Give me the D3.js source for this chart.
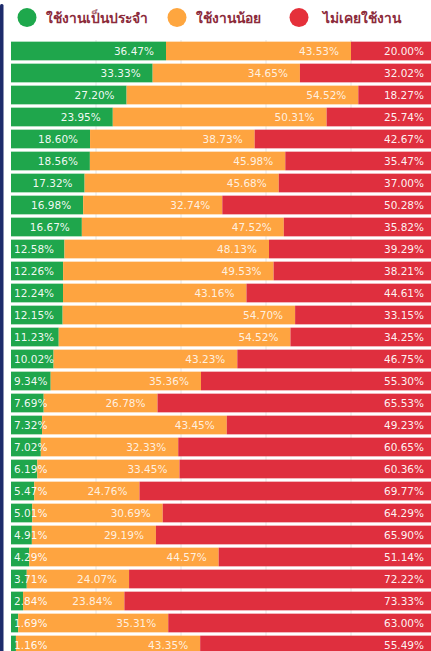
<!DOCTYPE html>
<html><head><meta charset="utf-8">
<script src="https://cdn.jsdelivr.net/npm/d3@7"></script>
<style>body{margin:0;background:#fff;overflow:hidden}svg{display:block}</style>
</head><body>
<svg id="chart" width="431" height="651"></svg>
<script>
const seriesNames = ["ใช้งานเป็นประจำ", "ใช้งานน้อย", "ไม่เคยใช้งาน"];
const seriesColors = ["#1fa64c", "#fea440", "#df2f3e"];
const legendColors = ["#1ea84c", "#fea63f", "#e5303a"];
const regular = [36.47,33.33,27.20,23.95,18.60,18.56,17.32,16.98,16.67,12.58,12.26,12.24,12.15,11.23,10.02,9.34,7.69,7.32,7.02,6.19,5.47,5.01,4.91,4.29,3.71,2.84,1.69,1.16];
const rarely  = [43.53,34.65,54.52,50.31,38.73,45.98,45.68,32.74,47.52,48.13,49.53,43.16,54.70,54.52,43.23,35.36,26.78,43.45,32.33,33.45,24.76,30.69,29.19,44.57,24.07,23.84,35.31,43.35];
const never   = [20.00,32.02,18.27,25.74,42.67,35.47,37.00,50.28,35.82,39.29,38.21,44.61,33.15,34.25,46.75,55.30,65.53,49.23,60.65,60.36,69.77,64.29,65.90,51.14,72.22,73.33,63.00,55.49];
const gridTicks = [20,40,60,80];

const svg = d3.select("#chart");
const rows = regular.map((d,i)=>({i, vals:[regular[i], rarely[i], never[i]]}));

const x = d3.scaleLinear().domain([0,100]).range([11,436]);
const y = d3.scaleBand().domain(d3.range(rows.length)).range([40, 656]).paddingInner(0.15).paddingOuter(0.075);

// left border
svg.append("rect").attr("x",0).attr("y",4).attr("width",3.5).attr("height",651).attr("rx",1.5).attr("fill","#1d2b6b");

// gridlines
svg.append("g").selectAll("line").data(gridTicks).join("line")
  .attr("x1",d=>x(d)).attr("x2",d=>x(d)).attr("y1",40).attr("y2",651)
  .attr("stroke","#e4e4e4").attr("stroke-width",1);

const g = svg.append("g");
rows.forEach(r=>{
  let cum = 0;
  r.vals.forEach((v,k)=>{
    const x0 = x(cum), x1 = x(cum+v);
    cum += v;
    g.append("rect").attr("x",x0).attr("y",y(r.i)).attr("width",x1-x0).attr("height",y.bandwidth()).attr("fill",seriesColors[k]);
  });
});
const lg = svg.append("g").attr("font-family","'DejaVu Sans', Verdana, sans-serif").attr("font-size","10.5px").attr("fill","#fff");
rows.forEach(r=>{
  let cum = 0;
  r.vals.forEach((v,k)=>{
    const start = cum;
    cum += v;
    const t = lg.append("text").attr("y", y(r.i)+y.bandwidth()/2).attr("dy","0.36em")
      .attr("text-anchor","end").attr("fill-opacity",k===1?0.85:0.95).text(v.toFixed(2)+"%");
    const w = t.node().getComputedTextLength();
    let xe = x(cum) - 12;
    const minStart = x(start) + (start===0 ? 3 : 4);
    if (xe - w < minStart) xe = minStart + w;
    t.attr("x", xe);
  });
});

// legend
const legX = [27, 177, 299];
const leg = svg.append("g");
seriesNames.forEach((n,k)=>{
  leg.append("circle").attr("cx",legX[k]).attr("cy",17.5).attr("r",9.5).attr("fill",legendColors[k]);
  leg.append("text").attr("x",legX[k]+ (k===2?24:19)).attr("y",22.5)
    .attr("font-family","'Noto Sans', 'DejaVu Sans', sans-serif").attr("font-size","13.8px").attr("font-weight","bold")
    .attr("fill","#8c2b3b").text(n);
});
</script>
</body></html>
